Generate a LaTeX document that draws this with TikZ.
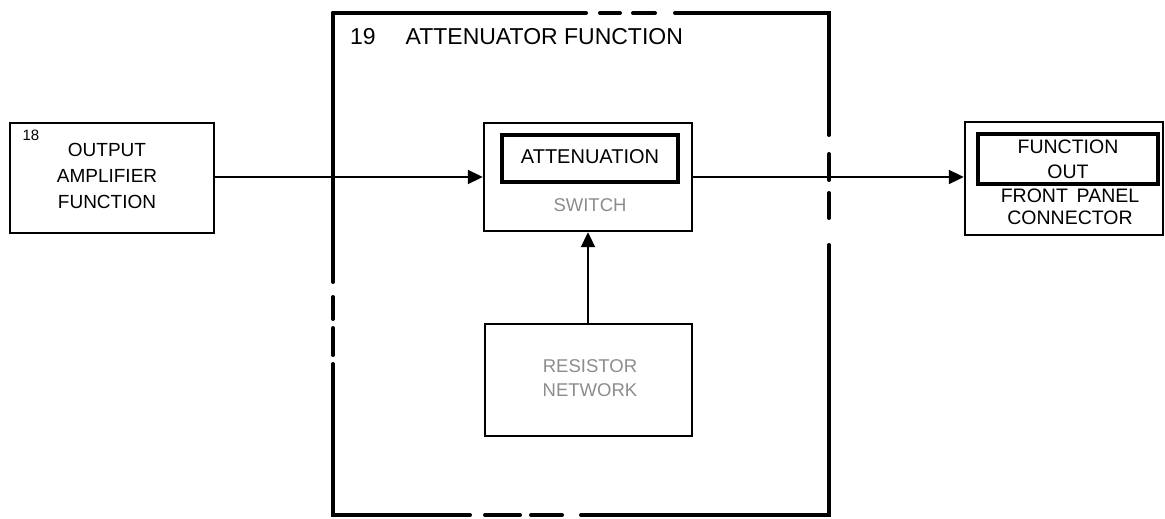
\documentclass[tikz,border=0pt]{standalone}
\usepackage{fontspec}
\setmainfont{Liberation Sans}
\usetikzlibrary{arrows.meta}
\begin{document}
\begin{tikzpicture}[x=1pt,y=-1pt,
  frame/.style={line width=4pt,line cap=round},
  box/.style={draw,line width=2.4pt,inner sep=0pt},
  hbox/.style={draw,line width=4.5pt,inner sep=0pt},
  btext/.style={font=\fontsize{19}{26}\selectfont,align=center,inner sep=0pt},
  gtext/.style={font=\fontsize{18.5}{24}\selectfont,align=center,inner sep=0pt,text=black!45},
  arr/.style={line width=2pt,-{Triangle[length=15pt,width=14pt]}}]
\useasboundingbox (0,0) rectangle (1165,519);
% outer dashed frame
\draw[frame] (333,13) -- (586,13);
\draw[frame] (600,13) -- (620,13);
\draw[frame] (633,13) -- (655,13);
\draw[frame] (675,13) -- (829,13) -- (829,135);
\draw[frame] (829,154) -- (829,180);
\draw[frame] (829,193) -- (829,218);
\draw[frame] (829,245) -- (829,515) -- (581,515);
\draw[frame] (562,515) -- (531,515);
\draw[frame] (520,515) -- (485,515);
\draw[frame] (470,515) -- (333,515) -- (333,364);
\draw[frame] (333,355) -- (333,328);
\draw[frame] (333,319) -- (333,297);
\draw[frame] (333,282) -- (333,13);
\node[anchor=west,font=\fontsize{23}{26}\selectfont,inner sep=0pt] (title) at (350,37) {19\hspace{1.3em}ATTENUATOR FUNCTION};
% left box
\node[box,minimum width=204pt,minimum height=110pt] (amp) at (112,178) {};
\node[font=\fontsize{15}{16}\selectfont,inner sep=0pt] (n18) at (31,135) {18};
\node[btext] (amptext) at (107,176) {OUTPUT\\AMPLIFIER\\FUNCTION};
% switch
\node[box,minimum width=208pt,minimum height=108pt] (switch) at (588,177) {};
\node[hbox,minimum width=176pt,minimum height=47pt] (att) at (590,158.5) {};
\node[btext,font=\fontsize{20}{26}\selectfont] (atttext) at (590,157) {ATTENUATION};
\node[gtext] (swtext) at (590,205) {SWITCH};
% resistor network
\node[box,minimum width=207pt,minimum height=112pt] (res) at (588.5,380) {};
\node[gtext] (restext) at (590,378) {RESISTOR\\NETWORK};
% output connector
\node[box,minimum width=198pt,minimum height=113pt] (out) at (1064,178.5) {};
\node[hbox,minimum width=180pt,minimum height=50pt] (fo) at (1068,159) {};
\node[btext,font=\fontsize{19.5}{25}\selectfont] (fotext) at (1068,159.5) {FUNCTION\\OUT};
\node[btext,font=\fontsize{19.5}{22}\selectfont] (fptext) at (1070,207) {FRONT\hspace{0.45em}PANEL\\CONNECTOR};
% connectors
\draw[arr] (amp.east |- 0,177) -- (switch.west);
\draw[arr] (res.north -| switch.south) -- (switch.south);
\draw[arr] (switch.east) -- (switch.east -| out.west);
\end{tikzpicture}
\end{document}
